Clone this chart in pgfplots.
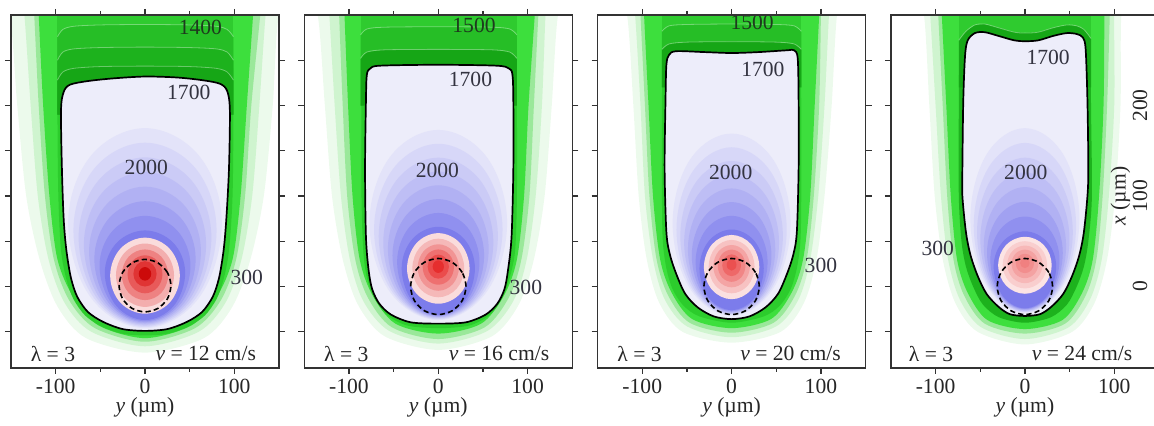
\documentclass[border=0pt]{standalone}
\usepackage{pgfplots}
\pgfplotsset{compat=1.18}
\usepackage{fontspec}
\setmainfont{Liberation Serif}
\newcommand\lf{\fontsize{10.8}{12.5}\selectfont}
\definecolor{pA}{HTML}{ECFAEC}
\definecolor{pB}{HTML}{CFF4CF}
\definecolor{pC}{HTML}{9AE89A}
\definecolor{pD}{HTML}{3DDF3D}
\definecolor{pE}{HTML}{2CCC2C}
\definecolor{f1}{HTML}{2FCB2F}
\definecolor{f2}{HTML}{26BE26}
\definecolor{f3}{HTML}{1DB21D}
\definecolor{f4}{HTML}{16A616}
\definecolor{lav}{HTML}{EDEDFA}
\definecolor{b0}{HTML}{E3E3F9}
\definecolor{b1}{HTML}{D7D7F8}
\definecolor{b2}{HTML}{CBCBF6}
\definecolor{b3}{HTML}{BEBEF5}
\definecolor{b4}{HTML}{B1B1F3}
\definecolor{b5}{HTML}{A1A1F1}
\definecolor{b6}{HTML}{9090EF}
\definecolor{b7}{HTML}{7C7CEB}
\definecolor{ra0}{HTML}{FADCDC}
\definecolor{ra1}{HTML}{F3AEAE}
\definecolor{ra2}{HTML}{EE8282}
\definecolor{ra3}{HTML}{E85A5A}
\definecolor{ra4}{HTML}{E03434}
\definecolor{ra5}{HTML}{CC0A0A}
\definecolor{rb0}{HTML}{FADCDC}
\definecolor{rb1}{HTML}{F5B8B8}
\definecolor{rb2}{HTML}{F19494}
\definecolor{rb3}{HTML}{EE7070}
\definecolor{rb4}{HTML}{EB4C4C}
\definecolor{rb5}{HTML}{E62E2E}
\definecolor{rc0}{HTML}{FBE0E0}
\definecolor{rc1}{HTML}{F7C2C2}
\definecolor{rc2}{HTML}{F4A4A4}
\definecolor{rc3}{HTML}{F18686}
\definecolor{rc4}{HTML}{EE6868}
\definecolor{rc5}{HTML}{EB5050}
\definecolor{rd0}{HTML}{FCE4E4}
\definecolor{rd1}{HTML}{F9CECE}
\definecolor{rd2}{HTML}{F7B8B8}
\definecolor{rd3}{HTML}{F4A2A2}
\definecolor{rd4}{HTML}{F28E8E}
\definecolor{rd5}{HTML}{F08080}
\definecolor{txt}{HTML}{333340}
\definecolor{gtxt}{HTML}{1E3A1E}
\pgfplotsset{
 panel/.style={
  scale only axis, width=134pt, height=176.5pt, anchor=south west,
  xmin=-150, xmax=150, ymin=-90, ymax=300,
  axis on top,
  axis line style={line width=0.6pt, color=black!80},
  tick align=outside,
  xtick={-100,0,100}, xticklabels={-100,0,100},
  minor xtick={-50,50},
  ytick={-50,0,50,100,150,200,250}, yticklabels={},
  major tick length=3pt, minor tick length=2pt,
  tick style={black!80, line width=0.6pt},
  ticklabel style={font=\lf, text=black!85},
  xticklabel style={yshift=1pt},
  xlabel={\textit{y} (µm)},
  xlabel style={font=\lf, text=black!85, yshift=5pt},
 },
 lay/.style={draw=none, fill=#1},
 egg/.style={draw=none, fill=#1, smooth cycle, tension=0.64},
 wl/.style={white, line width=0.4pt, opacity=0.35, smooth},
 blk/.style={fill=lav, draw=black, line width=0.85pt, smooth cycle},
 dsh/.style={black, line width=0.8pt, dash pattern=on 2.6pt off 1.6pt, smooth cycle},
}
\begin{document}
\begin{tikzpicture}
%================ PANEL 1
\begin{axis}[panel, at={(5.5pt,29pt)}]
\addplot[lay=pA, smooth] coordinates {(-175,330) (-152,300) (-143,200) (-133,100) (-118,30) (-98,-22) (-66,-57) (0,-73) (66,-57) (98,-22) (118,30) (133,100) (143,200) (150,300) (172,330)} -- cycle;
\addplot[lay=pB, smooth] coordinates {(-140,330) (-135,300) (-128,200) (-120,100) (-108,30) (-90,-18) (-60,-50) (0,-66) (60,-50) (90,-18) (108,30) (120,100) (128,200) (135,300) (140,330)} -- cycle;
\addplot[lay=pC, smooth] coordinates {(-126,330) (-124,300) (-119,200) (-112,100) (-102,30) (-85,-15) (-56,-46) (0,-61) (56,-46) (85,-15) (102,30) (112,100) (119,200) (129,300) (131,330)} -- cycle;
\addplot[lay=pD, smooth] coordinates {(-121,330) (-119,300) (-114,200) (-107,100) (-98,30) (-80,-12) (-52,-43) (0,-57) (52,-43) (80,-12) (98,30) (107,100) (114,200) (121,300) (123,330)} -- cycle;
\addplot[lay=pE, smooth] coordinates {(-97,330) (-98,200) (-97,100) (-94,40) (-88,8) (-80,-14) (-67,-32) (-49,-44) (-26,-52) (0,-54) (26,-52) (49,-44) (67,-32) (80,-14) (88,8) (94,40) (98,100) (99,200) (98,330)} -- cycle;
\addplot[lay=f1] coordinates {(-98,330) (99,330) (99,190) (-98,190)} -- cycle;
\addplot[lay=f2] coordinates {(-98,276) (-92,284) (-80,287.5) (-50,289) (0,289.5) (50,289) (80,287.5) (92,284) (99,276) (99,190) (-98,190)} -- cycle;
\addplot[lay=f3] coordinates {(-98,250) (-92,259) (-80,262.5) (-50,264) (0,264.5) (50,264) (80,262.5) (92,259) (99,250) (99,190) (-98,190)} -- cycle;
\addplot[lay=f4] coordinates {(-98,228) (-92,237) (-80,241) (-50,243) (0,243.5) (50,243) (80,241) (92,237) (99,228) (99,190) (-98,190)} -- cycle;
\addplot[wl] coordinates {(-98,276) (-92,284) (-80,287.5) (-50,289) (0,289.5) (50,289) (80,287.5) (92,284) (99,276)};
\addplot[wl] coordinates {(-98,250) (-92,259) (-80,262.5) (-50,264) (0,264.5) (50,264) (80,262.5) (92,259) (99,250)};
\addplot[wl] coordinates {(-98,228) (-92,237) (-80,241) (-50,243) (0,243.5) (50,243) (80,241) (92,237) (99,228)};
\addplot[blk] coordinates {(0,-49) (-25,-47) (-47,-39) (-64,-28) (-76,-11) (-83,10) (-88,40) (-91,74) (-93,130) (-94,195) (-91,215) (-84,223) (-64,227) (-35,230) (0,232) (35,231) (64,228) (84,224) (92,216) (95,195) (94,130) (91,74) (88,40) (83,10) (76,-11) (64,-28) (47,-39) (25,-47)};
\addplot[egg=b0] coordinates {(86,70) (60.8,144.2) (0,175) (-60.8,144.2) (-86,70) (-60.8,-12.0) (0,-46) (60.8,-12.0)};
\addplot[egg=b1] coordinates {(80.1,62.1) (56.7,130.5) (0,158.9) (-56.7,130.5) (-80.1,62.1) (-56.7,-13.4) (0,-44.7) (56.7,-13.4)};
\addplot[egg=b2] coordinates {(74.3,54.3) (52.5,116.8) (0,142.7) (-52.5,116.8) (-74.3,54.3) (-52.5,-14.8) (0,-43.4) (52.5,-14.8)};
\addplot[egg=b3] coordinates {(68.4,46.4) (48.4,103.1) (0,126.6) (-48.4,103.1) (-68.4,46.4) (-48.4,-16.2) (0,-42.1) (48.4,-16.2)};
\addplot[egg=b4] coordinates {(62.6,38.6) (44.3,89.4) (0,110.4) (-44.3,89.4) (-62.6,38.6) (-44.3,-17.6) (0,-40.9) (44.3,-17.6)};
\addplot[egg=b5] coordinates {(56.7,30.7) (40.1,75.7) (0,94.3) (-40.1,75.7) (-56.7,30.7) (-40.1,-19.0) (0,-39.6) (40.1,-19.0)};
\addplot[egg=b6] coordinates {(50.9,22.9) (36.0,61.9) (0,78.1) (-36.0,61.9) (-50.9,22.9) (-36.0,-20.4) (0,-38.3) (36.0,-20.4)};
\addplot[egg=b7] coordinates {(45,15) (31.8,48.2) (0,62) (-31.8,48.2) (-45,15) (-31.8,-21.8) (0,-37) (31.8,-21.8)};
\addplot[egg=ra0] coordinates {(39,12) (27.6,41.7) (0,54) (-27.6,41.7) (-39,12) (-27.6,-17.7) (0,-30) (27.6,-17.7)};
\addplot[egg=ra1] coordinates {(32.5,12.5) (23,37.2) (0,47.5) (-23,37.2) (-32.5,12.5) (-23,-12.2) (0,-22.5) (23,-12.2)};
\addplot[egg=ra2] coordinates {(26,13) (18.4,32.8) (0,41) (-18.4,32.8) (-26,13) (-18.4,-6.8) (0,-15) (18.4,-6.8)};
\addplot[egg=ra3] coordinates {(19.5,13.5) (13.8,28.3) (0,34.5) (-13.8,28.3) (-19.5,13.5) (-13.8,-1.3) (0,-7.5) (13.8,-1.3)};
\addplot[egg=ra4] coordinates {(13,14) (9.2,23.9) (0,28) (-9.2,23.9) (-13,14) (-9.2,4.1) (0,0) (9.2,4.1)};
\addplot[egg=ra5] coordinates {(7,14) (4.9,19.3) (0,21.5) (-4.9,19.3) (-7,14) (-4.9,8.7) (0,6.5) (4.9,8.7)};
\addplot[dsh] coordinates {(29,1) (25.1,15.5) (14.5,26.1) (0,30) (-14.5,26.1) (-25.1,15.5) (-29,1) (-25.1,-13.5) (-14.5,-24.1) (0,-28) (14.5,-24.1) (25.1,-13.5)};
\node[font=\lf, text=gtxt] at (axis cs:62,286) {1400};
\node[font=\lf, text=txt] at (axis cs:49,214) {1700};
\node[font=\lf, text=txt] at (axis cs:1.5,132) {2000};
\node[font=\lf, text=txt] at (axis cs:114,10.5) {300};
\node[font=\lf, text=black!85] at (axis cs:-103,-74) {λ = 3};
\node[font=\lf, text=black!85] at (axis cs:68,-74) {\textit{v} = 12 cm/s};
\end{axis}
%================ PANEL 2
\begin{axis}[panel, at={(152.15pt,29pt)}]
\addplot[lay=pA, smooth] coordinates {(-150,330) (-135,300) (-127,200) (-119,100) (-107,30) (-90,-20) (-60,-55) (0,-70) (60,-55) (90,-20) (107,30) (119,100) (127,200) (134,300) (148,330)} -- cycle;
\addplot[lay=pB, smooth] coordinates {(-125,330) (-122,300) (-116,200) (-109,100) (-99,30) (-84,-16) (-55,-49) (0,-63) (55,-49) (84,-16) (99,30) (109,100) (116,200) (120,300) (123,330)} -- cycle;
\addplot[lay=pC, smooth] coordinates {(-112,330) (-111,300) (-107,200) (-102,100) (-93,30) (-79,-12) (-52,-45) (0,-58) (52,-45) (79,-12) (93,30) (102,100) (107,200) (112,300) (114,330)} -- cycle;
\addplot[lay=pD, smooth] coordinates {(-106,330) (-105,300) (-101,200) (-96,100) (-88,30) (-74,-9) (-48,-41) (0,-52) (48,-41) (74,-9) (88,30) (96,100) (101,200) (108,300) (110,330)} -- cycle;
\addplot[lay=pE, smooth] coordinates {(-85,330) (-86,200) (-86,100) (-84,40) (-80,10) (-72,-12) (-58,-31) (-35,-43) (0,-46) (35,-43) (58,-31) (72,-12) (80,10) (86,40) (88,100) (88,200) (87,330)} -- cycle;
\addplot[lay=f1] coordinates {(-87,330) (88,330) (88,200) (-87,200)} -- cycle;
\addplot[lay=f2] coordinates {(-87,278) (-80,284.5) (-60,286.5) (0,287) (60,286.5) (80,284.5) (88,278) (88,200) (-87,200)} -- cycle;
\addplot[lay=f4] coordinates {(-87,252) (-80,259) (-60,261.5) (0,262) (60,261.5) (80,259) (88,252) (88,200) (-87,200)} -- cycle;
\addplot[wl] coordinates {(-87,278) (-80,284.5) (-60,286.5) (0,287) (60,286.5) (80,284.5) (88,278)};
\addplot[wl] coordinates {(-87,252) (-80,259) (-60,261.5) (0,262) (60,261.5) (80,259) (88,252)};
\addplot[blk] coordinates {(0,-41) (-31,-39.5) (-53,-31) (-66,-19) (-74,-3) (-78,18) (-81,55) (-82,130) (-81,205) (-80,234) (-76,241) (-65,244) (0,245) (65,244) (79,241) (83,234) (84,205) (84,130) (82,55) (78,18) (74,-3) (66,-19) (53,-31) (31,-39.5)};
\addplot[egg=b0] coordinates {(77,70) (54.4,142.8) (0,173) (-54.4,142.8) (-77,70) (-54.4,-5.6) (0,-37) (54.4,-5.6)};
\addplot[egg=b1] coordinates {(71.9,62.9) (50.8,129.9) (0,157.7) (-50.8,129.9) (-71.9,62.9) (-50.8,-7.1) (0,-36.1) (50.8,-7.1)};
\addplot[egg=b2] coordinates {(66.7,55.7) (47.2,117.0) (0,142.4) (-47.2,117.0) (-66.7,55.7) (-47.2,-8.6) (0,-35.3) (47.2,-8.6)};
\addplot[egg=b3] coordinates {(61.6,48.6) (43.6,104.1) (0,127.1) (-43.6,104.1) (-61.6,48.6) (-43.6,-10.1) (0,-34.4) (43.6,-10.1)};
\addplot[egg=b4] coordinates {(56.4,41.4) (39.9,91.2) (0,111.9) (-39.9,91.2) (-56.4,41.4) (-39.9,-11.6) (0,-33.6) (39.9,-11.6)};
\addplot[egg=b5] coordinates {(51.3,34.3) (36.3,78.3) (0,96.6) (-36.3,78.3) (-51.3,34.3) (-36.3,-13.1) (0,-32.7) (36.3,-13.1)};
\addplot[egg=b6] coordinates {(46.1,27.1) (32.6,65.4) (0,81.3) (-32.6,65.4) (-46.1,27.1) (-32.6,-14.6) (0,-31.9) (32.6,-14.6)};
\addplot[egg=b7] coordinates {(41,20) (29.0,52.5) (0,66) (-29.0,52.5) (-41,20) (-29.0,-16.1) (0,-31) (29.0,-16.1)};
\addplot[egg=rb0] coordinates {(35,20) (24.7,47.6) (0,59) (-24.7,47.6) (-35,20) (-24.7,-7.6) (0,-19) (24.7,-7.6)};
\addplot[egg=rb1] coordinates {(29,20.5) (20.5,43.4) (0,52.9) (-20.5,43.4) (-29,20.5) (-20.5,-2.4) (0,-11.9) (20.5,-2.4)};
\addplot[egg=rb2] coordinates {(23.1,21) (16.3,39.2) (0,46.7) (-16.3,39.2) (-23.1,21) (-16.3,2.8) (0,-4.7) (16.3,2.8)};
\addplot[egg=rb3] coordinates {(17.5,21.5) (12.4,35.3) (0,41) (-12.4,35.3) (-17.5,21.5) (-12.4,7.7) (0,2) (12.4,7.7)};
\addplot[egg=rb4] coordinates {(11.9,22) (8.4,31.4) (0,35.3) (-8.4,31.4) (-11.9,22) (-8.4,12.6) (0,8.7) (8.4,12.6)};
\addplot[egg=rb5] coordinates {(6.3,22) (4.5,26.9) (0,29) (-4.5,26.9) (-6.3,22) (-4.5,17.1) (0,15) (4.5,17.1)};
\addplot[dsh] coordinates {(31,0) (26.8,15.5) (15.5,26.8) (0,31) (-15.5,26.8) (-26.8,15.5) (-31,0) (-26.8,-15.5) (-15.5,-26.8) (0,-31) (15.5,-26.8) (26.8,-15.5)};
\node[font=\lf, text=gtxt] at (axis cs:40,289) {1500};
\node[font=\lf, text=txt] at (axis cs:36,229) {1700};
\node[font=\lf, text=txt] at (axis cs:-1,128) {2000};
\node[font=\lf, text=txt] at (axis cs:98,-1) {300};
\node[font=\lf, text=black!85] at (axis cs:-103,-74) {λ = 3};
\node[font=\lf, text=black!85] at (axis cs:68,-74) {\textit{v} = 16 cm/s};
\end{axis}
%================ PANEL 3
\begin{axis}[panel, at={(298.8pt,29pt)}]
\addplot[lay=pA, smooth] coordinates {(-130,330) (-117,300) (-110,200) (-104,100) (-95,30) (-81,-18) (-55,-50) (0,-62) (55,-50) (81,-18) (95,30) (104,100) (112,200) (118,300) (128,330)} -- cycle;
\addplot[lay=pB, smooth] coordinates {(-112,330) (-108,300) (-102,200) (-97,100) (-88,30) (-75,-14) (-50,-44) (0,-56) (50,-44) (75,-14) (88,30) (97,100) (104,200) (109,300) (112,330)} -- cycle;
\addplot[lay=pC, smooth] coordinates {(-103,330) (-102,300) (-97,200) (-92,100) (-84,30) (-71,-10) (-47,-40) (0,-51) (47,-40) (71,-10) (84,30) (92,100) (98,200) (100,300) (101,330)} -- cycle;
\addplot[lay=pD, smooth] coordinates {(-99,330) (-98,300) (-93,200) (-88,100) (-80,30) (-67,-7) (-44,-36) (0,-46) (44,-36) (67,-7) (80,30) (88,100) (93,200) (98,300) (99,330)} -- cycle;
\addplot[lay=pE, smooth] coordinates {(-77,330) (-78,200) (-78,100) (-77,50) (-73,20) (-66,-3) (-54,-21) (-36,-33) (0,-40) (36,-33) (54,-21) (66,-3) (73,20) (77,50) (78,100) (78,200) (77,330)} -- cycle;
\addplot[lay=f1] coordinates {(-78,330) (78,330) (78,220) (-78,220)} -- cycle;
\addplot[lay=f2] coordinates {(-78,282) (-70,288) (-50,289.5) (0,290) (50,289.5) (70,288) (78,282) (78,220) (-78,220)} -- cycle;
\addplot[lay=f4] coordinates {(-78,262) (-70,268) (-50,270) (0,270.5) (50,270) (70,268) (78,262) (78,220) (-78,220)} -- cycle;
\addplot[wl] coordinates {(-78,282) (-70,288) (-50,289.5) (0,290) (50,289.5) (70,288) (78,282)};
\addplot[wl] coordinates {(-78,262) (-70,268) (-50,270) (0,270.5) (50,270) (70,268) (78,262)};
\addplot[blk] coordinates {(0,-36) (-20,-33) (-38,-23) (-52,-8) (-62,14) (-69,35) (-73,60) (-75,130) (-74,205) (-73,245) (-70,256) (-62,260) (-30,259) (0,258) (30,259) (62,261) (70,261) (74,252) (75,205) (75,130) (73,60) (69,35) (62,14) (52,-8) (38,-23) (20,-33)};
\addplot[egg=b0] coordinates {(66,70) (46.7,140) (0,169) (-46.7,140) (-66,70) (-46.7,-2.1) (0,-32) (46.7,-2.1)};
\addplot[egg=b1] coordinates {(61.7,62.9) (43.6,127.2) (0,153.9) (-43.6,127.2) (-61.7,62.9) (-43.6,-3.6) (0,-31.1) (43.6,-3.6)};
\addplot[egg=b2] coordinates {(57.4,55.7) (40.6,114.4) (0,138.7) (-40.6,114.4) (-57.4,55.7) (-40.6,-5.1) (0,-30.3) (40.6,-5.1)};
\addplot[egg=b3] coordinates {(53.1,48.6) (37.5,101.6) (0,123.6) (-37.5,101.6) (-53.1,48.6) (-37.5,-6.5) (0,-29.4) (37.5,-6.5)};
\addplot[egg=b4] coordinates {(48.9,41.4) (34.6,88.8) (0,108.4) (-34.6,88.8) (-48.9,41.4) (-34.6,-8.1) (0,-28.6) (34.6,-8.1)};
\addplot[egg=b5] coordinates {(44.6,34.3) (31.5,76.0) (0,93.3) (-31.5,76.0) (-44.6,34.3) (-31.5,-9.5) (0,-27.7) (31.5,-9.5)};
\addplot[egg=b6] coordinates {(40.3,27.1) (28.5,63.2) (0,78.1) (-28.5,63.2) (-40.3,27.1) (-28.5,-11.1) (0,-26.9) (28.5,-11.1)};
\addplot[egg=b7] coordinates {(36,20) (25.5,50.4) (0,63) (-25.5,50.4) (-36,20) (-25.5,-12.5) (0,-26) (25.5,-12.5)};
\addplot[egg=rc0] coordinates {(31,21.5) (21.9,46.6) (0,57) (-21.9,46.6) (-31,21.5) (-21.9,-3.6) (0,-14) (21.9,-3.6)};
\addplot[egg=rc1] coordinates {(25.7,22) (18.2,42.9) (0,51.5) (-18.2,42.9) (-25.7,22) (-18.2,1.1) (0,-7.5) (18.2,1.1)};
\addplot[egg=rc2] coordinates {(20.5,22.5) (14.5,39) (0,45.9) (-14.5,39) (-20.5,22.5) (-14.5,6) (0,-0.9) (14.5,6)};
\addplot[egg=rc3] coordinates {(15.5,23) (11,35.6) (0,40.8) (-11,35.6) (-15.5,23) (-11,10.4) (0,5.2) (11,10.4)};
\addplot[egg=rc4] coordinates {(10.5,23.5) (7.4,32) (0,35.5) (-7.4,32) (-10.5,23.5) (-7.4,15) (0,11.5) (7.4,15)};
\addplot[egg=rc5] coordinates {(5.5,24) (3.9,28.5) (0,30.4) (-3.9,28.5) (-5.5,24) (-3.9,19.5) (0,17.6) (3.9,19.5)};
\addplot[dsh] coordinates {(31,0) (26.8,15.5) (15.5,26.8) (0,31) (-15.5,26.8) (-26.8,15.5) (-31,0) (-26.8,-15.5) (-15.5,-26.8) (0,-31) (15.5,-26.8) (26.8,-15.5)};
\node[font=\lf, text=gtxt] at (axis cs:23,292) {1500};
\node[font=\lf, text=txt] at (axis cs:35,240) {1700};
\node[font=\lf, text=txt] at (axis cs:-1,126) {2000};
\node[font=\lf, text=txt] at (axis cs:100,23.5) {300};
\node[font=\lf, text=black!85] at (axis cs:-103,-74) {λ = 3};
\node[font=\lf, text=black!85] at (axis cs:66,-74) {\textit{v} = 20 cm/s};
\end{axis}
%================ PANEL 4
\begin{axis}[panel, at={(445.45pt,29pt)}]
\addplot[lay=pA, smooth] coordinates {(-125,330) (-113,300) (-107,200) (-101,100) (-92,30) (-78,-18) (-53,-50) (0,-64) (53,-50) (78,-18) (92,30) (101,100) (107,200) (108,300) (118,330)} -- cycle;
\addplot[lay=pB, smooth] coordinates {(-109,330) (-106,300) (-100,200) (-94,100) (-86,30) (-73,-14) (-49,-45) (0,-58) (49,-45) (73,-14) (86,30) (94,100) (100,200) (100,300) (103,330)} -- cycle;
\addplot[lay=pC, smooth] coordinates {(-98,330) (-97,300) (-92,200) (-87,100) (-80,30) (-68,-10) (-45,-41) (0,-52) (45,-41) (68,-10) (80,30) (87,100) (92,200) (95,300) (96,330)} -- cycle;
\addplot[lay=pD, smooth] coordinates {(-94,330) (-93,300) (-88,200) (-83,100) (-76,30) (-64,-7) (-42,-37) (0,-47) (42,-37) (64,-7) (76,30) (83,100) (88,200) (89,300) (90,330)} -- cycle;
\addplot[lay=f3, smooth] coordinates {(-73,330) (-74,200) (-74,100) (-71,50) (-66,22) (-58,0) (-47,-20) (-29,-34) (0,-40) (29,-34) (47,-20) (58,0) (66,22) (71,50) (75,100) (74,200) (73,330)} -- cycle;
\addplot[lay=f1] coordinates {(-74,330) (74,330) (74,220) (-74,220)} -- cycle;
\addplot[lay=f4] coordinates {(-74,272) (-66,282) (-56,289) (-45,290) (-30,286) (-12,281) (0,280) (15,281) (32,286) (47,289) (58,288) (66,284) (74,274) (74,220) (-74,220)} -- cycle;
\addplot[wl] coordinates {(-74,272) (-66,282) (-56,289) (-45,290) (-30,286) (-12,281) (0,280) (15,281) (32,286) (47,289) (58,288) (66,284) (74,274)};
\addplot[blk] coordinates {(0,-32.5) (-17,-30.5) (-30,-22) (-43,-8) (-53,12) (-61,35) (-66,60) (-70,100) (-70,130) (-69,205) (-67,255) (-64,272) (-56,280) (-45,281) (-30,277) (-12,272) (0,271) (15,272) (32,277) (47,280) (58,279) (65,275) (68,262) (70,205) (71,130) (70,100) (66,60) (61,35) (53,12) (43,-8) (30,-22) (17,-30.5)};
\addplot[egg=b0] coordinates {(61,75) (43.1,145.7) (0,175) (-43.1,145.7) (-61,75) (-43.1,1.5) (0,-29) (43.1,1.5)};
\addplot[egg=b1] coordinates {(57.3,67.4) (40.5,131.9) (0,158.7) (-40.5,131.9) (-57.3,67.4) (-40.5,-0.3) (0,-28.3) (40.5,-0.3)};
\addplot[egg=b2] coordinates {(53.6,59.9) (37.9,118.2) (0,142.4) (-37.9,118.2) (-53.6,59.9) (-37.9,-2.0) (0,-27.6) (37.9,-2.0)};
\addplot[egg=b3] coordinates {(49.9,52.3) (35.3,104.5) (0,126.1) (-35.3,104.5) (-49.9,52.3) (-35.3,-3.7) (0,-26.9) (35.3,-3.7)};
\addplot[egg=b4] coordinates {(46.1,44.7) (32.6,90.8) (0,109.9) (-32.6,90.8) (-46.1,44.7) (-32.6,-5.4) (0,-26.1) (32.6,-5.4)};
\addplot[egg=b5] coordinates {(42.4,37.1) (30.0,77.0) (0,93.6) (-30.0,77.0) (-42.4,37.1) (-30.0,-7.1) (0,-25.4) (30.0,-7.1)};
\addplot[egg=b6] coordinates {(38.7,29.6) (27.4,63.3) (0,77.3) (-27.4,63.3) (-38.7,29.6) (-27.4,-8.8) (0,-24.7) (27.4,-8.8)};
\addplot[egg=b7] coordinates {(35,22) (24.7,49.6) (0,61) (-24.7,49.6) (-35,22) (-24.7,-10.5) (0,-24) (24.7,-10.5)};
\addplot[egg=rd0] coordinates {(30,23.5) (21.2,45.8) (0,55) (-21.2,45.8) (-30,23.5) (-21.2,1.2) (0,-8) (21.2,1.2)};
\addplot[egg=rd1] coordinates {(24.9,24) (17.6,42.5) (0,50.1) (-17.6,42.5) (-24.9,24) (-17.6,5.5) (0,-2.1) (17.6,5.5)};
\addplot[egg=rd2] coordinates {(19.8,24.5) (14,39.2) (0,45.3) (-14,39.2) (-19.8,24.5) (-14,9.8) (0,3.7) (14,9.8)};
\addplot[egg=rd3] coordinates {(15,25) (10.6,36.2) (0,40.8) (-10.6,36.2) (-15,25) (-10.6,13.8) (0,9.2) (10.6,13.8)};
\addplot[egg=rd4] coordinates {(10.2,25.5) (7.2,33.1) (0,36.2) (-7.2,33.1) (-10.2,25.5) (-7.2,17.9) (0,14.8) (7.2,17.9)};
\addplot[egg=rd5] coordinates {(5.4,26) (3.8,30) (0,31.7) (-3.8,30) (-5.4,26) (-3.8,22) (0,20.3) (3.8,22)};
\addplot[dsh] coordinates {(31,0) (26.8,15.5) (15.5,26.8) (0,31) (-15.5,26.8) (-26.8,15.5) (-31,0) (-26.8,-15.5) (-15.5,-26.8) (0,-31) (15.5,-26.8) (26.8,-15.5)};
\node[font=\lf, text=txt] at (axis cs:26,253) {1700};
\node[font=\lf, text=txt] at (axis cs:1,126) {2000};
\node[font=\lf, text=txt] at (axis cs:-97.5,42) {300};
\node[font=\lf, text=black!85] at (axis cs:-105,-74) {λ = 3};
\node[font=\lf, text=black!85] at (axis cs:64,-74) {\textit{v} = 24 cm/s};
\node[font=\lf, text=black!85, rotate=90] at (axis cs:107,100) {\textit{x} (µm)};
\node[font=\lf, text=black!85, rotate=90] at (axis cs:129,200) {200};
\node[font=\lf, text=black!85, rotate=90] at (axis cs:129,100) {100};
\node[font=\lf, text=black!85, rotate=90] at (axis cs:129,0) {0};
\end{axis}
\pgfresetboundingbox
\path[use as bounding box] (0,0) rectangle (577pt,213pt);
\end{tikzpicture}
\end{document}
